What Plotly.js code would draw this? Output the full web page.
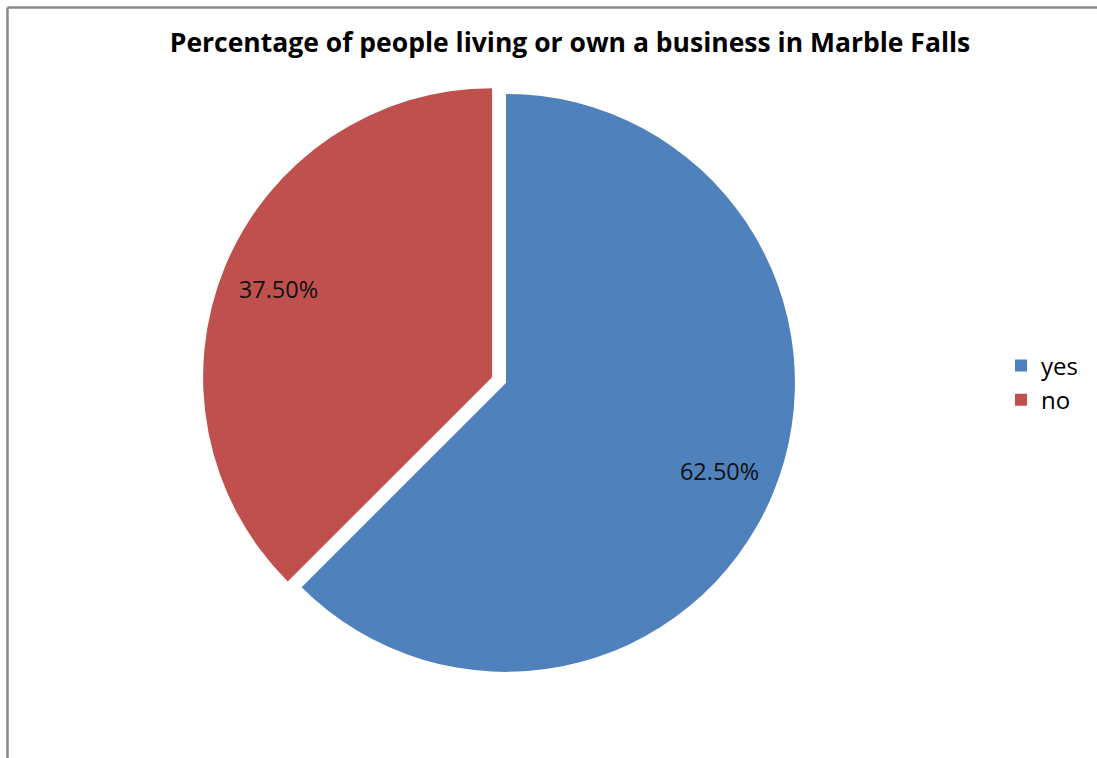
<!DOCTYPE html>
<html>
<head>
<meta charset="utf-8">
<script src="https://cdn.plot.ly/plotly-3.0.1.min.js"></script>
<style>
  html, body { margin: 0; padding: 0; background: #fff; }
  #chart { width: 1097px; height: 758px; }
</style>
</head>
<body>
<div id="chart"></div>
<script>
const categories = ["yes", "no"];
const values = [62.5, 37.5];
const sliceColors = ["#4F81BD", "#C0504D"];
const chartTitle = "Percentage of people living or own a business in Marble Falls";

const W = 1097, H = 758;
const domainX = [0.1846, 0.7252];
const domainY = [0.1075, 0.8898];
const pullAmt = [0.026, 0.026];

const basePie = {
  type: "pie",
  labels: categories,
  values: values,
  sort: false,
  direction: "clockwise",
  rotation: 0,
  pull: pullAmt,
  domain: { x: domainX, y: domainY },
  marker: { colors: sliceColors, line: { width: 0 } },
  textinfo: "none",
  hoverinfo: "label+percent",
  showlegend: true
};

// transparent overlay used only to place the percentage labels further out
const labelPie = {
  type: "pie",
  labels: categories,
  values: values,
  sort: false,
  direction: "clockwise",
  rotation: 0,
  pull: pullAmt,
  hole: 0.6,
  domain: { x: domainX, y: domainY },
  marker: { colors: ["rgba(0,0,0,0)", "rgba(0,0,0,0)"], line: { width: 0 } },
  texttemplate: "%{percent:.2%}",
  textposition: "inside",
  insidetextorientation: "horizontal",
  textfont: { family: "Open Sans, sans-serif", size: 23.5, color: "#111" },
  hoverinfo: "skip",
  showlegend: false
};

const layout = {
  width: W,
  height: H,
  margin: { l: 0, r: 0, t: 0, b: 0 },
  paper_bgcolor: "#ffffff",
  plot_bgcolor: "#ffffff",
  title: {
    text: "<b>" + chartTitle + "</b>",
    font: { family: "Open Sans, sans-serif", size: 26.5, color: "#000" },
    x: 570 / W,
    xanchor: "center",
    y: 1 - 43 / H,
    yanchor: "middle",
    xref: "paper",
    yref: "container"
  },
  legend: {
    x: 1001 / W,
    xanchor: "left",
    y: 1 - 383 / H,
    yanchor: "middle",
    font: { family: "Open Sans, sans-serif", size: 24, color: "#000" },
    bgcolor: "rgba(0,0,0,0)"
  },
  shapes: [
    { type: "line", xref: "paper", yref: "paper", x0: 7.5 / W, x1: 1, y0: 1 - 7.5 / H, y1: 1 - 7.5 / H,
      line: { color: "#8a8a8a", width: 2.5 } },
    { type: "line", xref: "paper", yref: "paper", x0: 7.5 / W, x1: 7.5 / W, y0: 0, y1: 1 - 7.5 / H,
      line: { color: "#8a8a8a", width: 2.5 } }
  ]
};

Plotly.newPlot("chart", [basePie, labelPie], layout, { displayModeBar: false, staticPlot: true });
</script>
</body>
</html>
